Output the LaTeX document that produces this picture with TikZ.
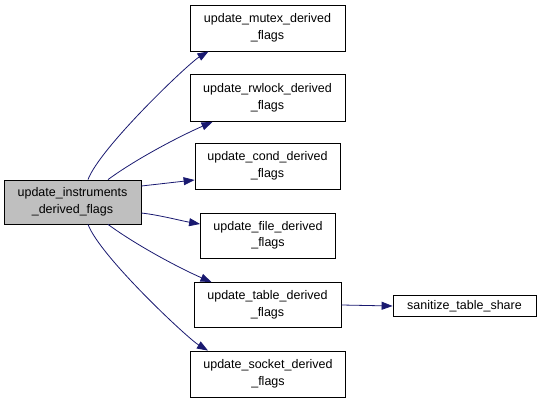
\documentclass[tikz,border=0pt]{standalone}
\usepackage{fontspec}
\setmainfont{Liberation Sans}
\usetikzlibrary{arrows.meta,calc}
\definecolor{edgeblue}{HTML}{191970}
\definecolor{mainfill}{HTML}{BFBFBF}
\tikzset{
  fn/.style={draw=black, line width=0.8pt, fill=white, inner sep=0pt, align=center, font=\fontsize{12.5}{16.5}\selectfont},
  mainfn/.style={fn, fill=mainfill},
  edge/.style={draw=edgeblue, line width=0.8pt, -{Triangle[length=11pt,width=8pt]}},
}
\begin{document}
\begin{tikzpicture}[x=1pt,y=-1pt]
\useasboundingbox (0,0) rectangle (541,403);
\node[mainfn, minimum width=137pt, minimum height=44pt] (main) at (72.5,202) {update\_instruments\\\_derived\_flags};
\node[fn, minimum width=155pt, minimum height=46pt] (mutex) at (267.5,28) {update\_mutex\_derived\\\_flags};
\node[fn, minimum width=155pt, minimum height=47pt] (rwlock) at (267.5,98) {update\_rwlock\_derived\\\_flags};
\node[fn, minimum width=145pt, minimum height=46pt] (cond) at (267.5,166) {update\_cond\_derived\\\_flags};
\node[fn, minimum width=135pt, minimum height=45pt] (file) at (268,235.5) {update\_file\_derived\\\_flags};
\node[fn, minimum width=147pt, minimum height=45pt] (table) at (267.5,305) {update\_table\_derived\\\_flags};
\node[fn, minimum width=143pt, minimum height=21pt] (sanitize) at (464.5,306) {sanitize\_table\_share};
\node[fn, minimum width=155pt, minimum height=46pt] (socket) at (268,374) {update\_socket\_derived\\\_flags};

\draw[edge] ($(main.north)+(15.5,0)$) .. controls +(12,-32) and +(-20,12) .. ($(mutex.south)+(-59,0)$);
\draw[edge] ($(main.north)+(35.5,0)$) .. controls +(30,-22) and +(-30,13) .. ($(rwlock.south)+(-55,0)$);
\draw[edge] ($(main.east)+(0,-16)$) .. controls +(18,-2) and +(-18,2) .. ($(cond.west)+(0,14)$);
\draw[edge] ($(main.east)+(0,11)$) .. controls +(18,2) and +(-18,-3) .. ($(file.west)+(0,-11.5)$);
\draw[edge] ($(main.south)+(35.5,0)$) .. controls +(30,22) and +(-30,-13) .. ($(table.north)+(-56,0)$);
\draw[edge] ($(main.south)+(15.5,0)$) .. controls +(12,32) and +(-20,-12) .. ($(socket.north)+(-60,0)$);
\draw[edge] (table.east) -- (sanitize.west);
\end{tikzpicture}
\end{document}
